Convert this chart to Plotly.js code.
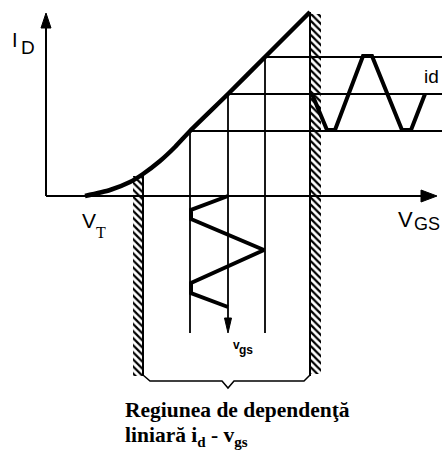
<!DOCTYPE html>
<html>
<head>
<meta charset="utf-8">
<script src="https://cdn.plot.ly/plotly-3.0.1.min.js"></script>
<style>
  html, body { margin: 0; padding: 0; background: #fff; }
  #chart { width: 442px; height: 452px; }
</style>
</head>
<body>
<div id="chart"></div>
<script>
// Transfer characteristic I_D(V_GS) of a MOSFET (arbitrary drawing units)
const vgsCurve = [39, 64, 84, 97, 114, 129, 144, 182, 219, 264];
const idCurve  = [0, 6, 14, 22, 35, 49, 65, 102, 139, 184];

// Operating swing: lower limit, quiescent point, upper limit
const qVgs = [144, 182, 219];
const qId  = [65, 102, 139];

// Boundaries of the linear-dependence region
const linVgs = [97, 264];

// Input signal v_gs (drawn downward in time below the V_GS axis)
const inWaveVgs  = [182, 145, 145, 218, 145, 145, 182];
const inWaveTime = [0, -14, -23, -54, -87, -97, -111];

// Output signal i_d (drawn to the right in time)
const outWaveTime = [266, 281, 289, 317, 326, 356, 365, 379];
const outWaveId   = [102, 66, 66, 140, 140, 66, 66, 102];

// Extents of the sketch
const axisTop = 183, axisRight = 391;
const dropBottom = -137, wallBottom = -180, rightEdge = 396;

const K = '#000';
const traces = [];

// hatched walls at the limits of the linear region
function hatch(u0, u1, v0, v1) {
  return {
    x: [u0, u1, u1, u0, u0], y: [v0, v0, v1, v1, v0],
    mode: 'lines', line: { width: 0 }, fill: 'toself',
    fillcolor: 'rgba(0,0,0,0)',
    fillpattern: { shape: '\\', size: 5, solidity: 0.45, fgcolor: K },
    hoverinfo: 'skip'
  };
}
traces.push(hatch(linVgs[0] - 10, linVgs[0], idCurve[3] - 2, wallBottom));
traces.push(hatch(linVgs[1], linVgs[1] + 11, idCurve[idCurve.length - 1] - 2, wallBottom + 2));

// wall lines
traces.push({
  x: [linVgs[0], linVgs[0], null, linVgs[1], linVgs[1]],
  y: [idCurve[3], wallBottom, null, idCurve[idCurve.length - 1], wallBottom],
  mode: 'lines', line: { color: K, width: 2 }, hoverinfo: 'skip'
});

// projection lines from the curve
const px = [], py = [];
qVgs.forEach((u, i) => {
  px.push(u, u, null, u, rightEdge, null);
  py.push(qId[i], dropBottom + (i === 1 ? 10 : 0), null, qId[i], qId[i], null);
});
traces.push({ x: px, y: py, mode: 'lines', line: { color: K, width: 1.8 }, hoverinfo: 'skip' });

// axes
traces.push({
  x: [0, 0, null, 0, axisRight - 12],
  y: [axisTop - 12, 0, null, 0, 0],
  mode: 'lines', line: { color: K, width: 2 }, hoverinfo: 'skip'
});

// brace under the linear region
const mid = qVgs[1];
traces.push({
  x: [linVgs[0], linVgs[0] + 7, mid - 6, mid, mid + 6, linVgs[1] - 6, linVgs[1]],
  y: [wallBottom + 1, wallBottom - 5, wallBottom - 5, wallBottom - 12, wallBottom - 5, wallBottom - 5, wallBottom + 1],
  mode: 'lines', line: { color: K, width: 1.5 }, hoverinfo: 'skip'
});

// characteristic curve
traces.push({ x: vgsCurve, y: idCurve, mode: 'lines',
  line: { color: K, width: 4.5, shape: 'spline', smoothing: 0.6 }, hoverinfo: 'skip' });

// input and output waveforms
traces.push({ x: inWaveVgs, y: inWaveTime, mode: 'lines',
  line: { color: K, width: 4 }, hoverinfo: 'skip' });
traces.push({ x: outWaveTime, y: outWaveId, mode: 'lines',
  line: { color: K, width: 4 }, hoverinfo: 'skip' });

// arrow heads (filled triangles pointing along dx,dy)
function head(u, v, dx, dy, len, half) {
  const bu = u - dx * len, bv = v - dy * len;
  return {
    x: [u, bu - dy * half, bu + dy * half, u],
    y: [v, bv + dx * half, bv - dx * half, v],
    mode: 'lines', fill: 'toself', fillcolor: K,
    line: { color: K, width: 1 }, hoverinfo: 'skip'
  };
}
traces.push(head(0, axisTop, 0, 1, 15, 5));
traces.push(head(axisRight, 0, 1, 0, 16, 6));
traces.push(head(qVgs[1], dropBottom, 0, -1, 15, 3.5));

const sans = 'Liberation Sans, Arial, sans-serif';
const serif = 'Liberation Serif, Times New Roman, serif';
function label(text, u, v, size, family, xa, extra) {
  return Object.assign({
    text: text, x: u, y: v, xref: 'x', yref: 'y', showarrow: false,
    xanchor: xa || 'center', yanchor: 'middle',
    font: { family: family, size: size, color: K }
  }, extra || {});
}

const annotations = [
  label('I', -31, 156, 20, sans),
  label('D', -18.5, 148.5, 19, sans),
  label('V', 43, -24, 21, sans),
  label('T', 54.5, -36.5, 16, serif),
  label('V', 359.5, -23, 22, sans),
  label('GS', 381, -27.5, 18, sans),
  label('id', 385.5, 119.5, 19, sans),
  label('<b>v</b>', 190, -149, 12, sans),
  label('<b>gs</b>', 200, -154, 12, sans),
  label('<b>Regiunea de dependenţă</b>', 77, -214, 21.5, serif, 'left'),
  label('<b>liniară i<sub>d</sub> - v<sub>gs</sub></b>', 77, -240, 21.5, serif, 'left')
];

const layout = {
  width: 442, height: 452,
  margin: { l: 0, r: 0, t: 0, b: 0 },
  paper_bgcolor: '#fff', plot_bgcolor: '#fff',
  showlegend: false,
  xaxis: { range: [-46, 396], visible: false, fixedrange: true },
  yaxis: { range: [-256, 196], visible: false, fixedrange: true },
  annotations: annotations
};

Plotly.newPlot('chart', traces, layout, { displayModeBar: false, staticPlot: true });
</script>
</body>
</html>
